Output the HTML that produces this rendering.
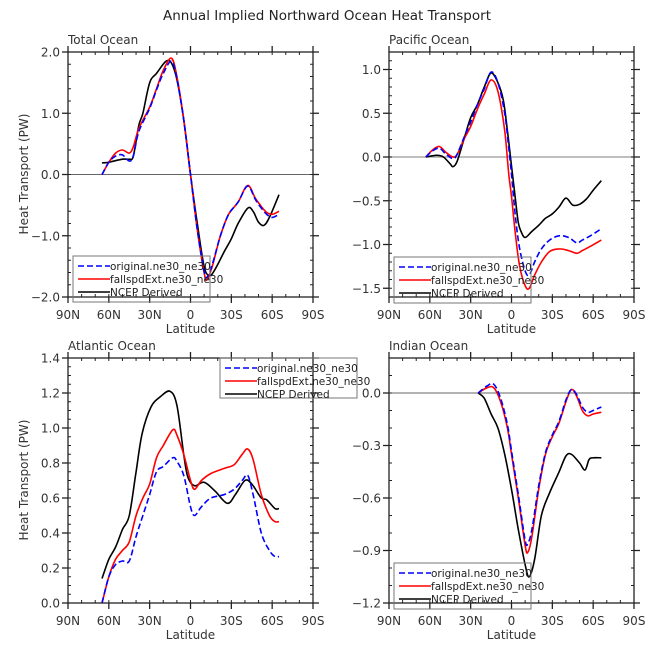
<!DOCTYPE html>
<html><head><meta charset="utf-8"><style>
body{margin:0;background:#fff;}
svg{display:block;font-family:"DejaVu Sans","Liberation Sans",sans-serif;}
</style></head><body>
<svg id="chart" width="653" height="649" viewBox="0 0 653 649">
<text x="327" y="20" text-anchor="middle" font-size="13.5" fill="#222">Annual Implied Northward Ocean Heat Transport</text>
</svg>
<script>
// ---- Data (lat in degrees, + = North) ----
const totalLatB=[65,60,50,45,42,38,35,30,25,18,14,10,5,0,-5,-10,-14,-18,-25,-30,-35,-42,-46,-50,-54,-58,-65];
const totalB=[0.19,0.2,0.25,0.25,0.3,0.8,1.0,1.5,1.65,1.85,1.82,1.55,0.9,0.0,-0.8,-1.5,-1.65,-1.55,-1.25,-1.05,-0.8,-0.55,-0.6,-0.78,-0.83,-0.7,-0.33];
const totalLatR=[65,60,55,50,45,42,38,30,25,20,14,10,5,0,-5,-10,-12,-16,-22,-28,-35,-42,-48,-55,-60,-65];
const totalR=[0.0,0.2,0.35,0.4,0.35,0.45,0.75,1.1,1.4,1.7,1.9,1.6,0.9,0,-0.9,-1.6,-1.72,-1.5,-1.0,-0.65,-0.45,-0.18,-0.4,-0.6,-0.65,-0.6];
const totalBl=[0.0,0.2,0.3,0.32,0.22,0.3,0.7,1.08,1.38,1.65,1.85,1.57,0.9,0,-0.9,-1.58,-1.68,-1.47,-1.0,-0.65,-0.45,-0.19,-0.42,-0.63,-0.7,-0.65];

const pacLatB=[63,55,50,45,43,40,35,30,25,20,15,10,6,3,0,-3,-5,-7,-10,-15,-20,-25,-30,-35,-40,-45,-50,-55,-60,-66];
const pacB=[0.0,0.02,0.0,-0.08,-0.11,-0.05,0.2,0.45,0.6,0.8,0.96,0.85,0.65,0.3,-0.1,-0.5,-0.75,-0.85,-0.92,-0.85,-0.78,-0.7,-0.65,-0.57,-0.47,-0.55,-0.54,-0.48,-0.38,-0.27];
const pacLatR=[63,58,53,48,43,40,35,30,25,20,15,10,5,2,0,-3,-6,-10,-13,-17,-22,-28,-35,-42,-48,-52,-58,-66];
const pacR=[0.0,0.08,0.12,0.05,0.0,0.03,0.2,0.35,0.55,0.72,0.88,0.75,0.3,-0.2,-0.45,-0.9,-1.25,-1.47,-1.5,-1.35,-1.2,-1.08,-1.05,-1.07,-1.1,-1.07,-1.02,-0.95];
const pacBl=[0.0,0.07,0.1,0.03,-0.02,0.03,0.22,0.4,0.6,0.78,0.97,0.85,0.5,0.1,-0.2,-0.7,-1.05,-1.3,-1.35,-1.2,-1.05,-0.95,-0.9,-0.92,-0.98,-0.95,-0.9,-0.82];

const atlLatB=[65,60,55,50,45,40,35.5,29,22,15,10,5,2,-3,-10,-18,-27,-33,-40,-45,-52,-56,-62,-65];
const atlB=[0.14,0.25,0.32,0.42,0.5,0.75,0.97,1.12,1.18,1.21,1.13,0.85,0.72,0.67,0.69,0.64,0.57,0.62,0.70,0.68,0.6,0.59,0.54,0.54];
const atlLatR=[65,60,55,50,45,40,35,30,25,20,13,10,5,0,-3,-8,-15,-25,-32,-38,-42,-46,-52,-58,-62,-65];
const atlR=[0.0,0.15,0.25,0.3,0.35,0.5,0.6,0.68,0.83,0.9,0.99,0.96,0.85,0.7,0.65,0.7,0.74,0.77,0.79,0.85,0.88,0.82,0.62,0.5,0.465,0.465];
const atlBl=[0.0,0.15,0.22,0.24,0.24,0.38,0.5,0.62,0.75,0.78,0.83,0.81,0.73,0.55,0.5,0.55,0.6,0.62,0.65,0.7,0.73,0.62,0.4,0.3,0.265,0.265];

const indLatB=[24.5,20,15,10,5,0,-5,-10,-13,-17,-22,-28,-35,-40,-44,-50,-54,-57,-60,-66];
const indB=[0,-0.03,-0.12,-0.2,-0.35,-0.55,-0.78,-0.98,-1.05,-0.95,-0.7,-0.57,-0.45,-0.36,-0.35,-0.4,-0.44,-0.38,-0.37,-0.37];
const indLatR=[24.5,18,13,8,3,0,-5,-10,-12,-15,-20,-25,-30,-35,-40,-44,-48,-52,-56,-60,-66];
const indR=[0,0.03,0.03,-0.05,-0.2,-0.35,-0.6,-0.87,-0.91,-0.82,-0.55,-0.35,-0.25,-0.17,-0.05,0.02,-0.02,-0.1,-0.13,-0.12,-0.11];
const indBl=[0,0.04,0.05,-0.03,-0.18,-0.33,-0.58,-0.84,-0.86,-0.78,-0.53,-0.34,-0.24,-0.16,-0.04,0.02,-0.01,-0.08,-0.11,-0.1,-0.08];

const xTickLabels=["90N","60N","30N","0","30S","60S","90S"];
const legendLabels=["original.ne30_ne30","fallspdExt.ne30_ne30","NCEP Derived"];

const NS='http://www.w3.org/2000/svg';
const svg=document.getElementById('chart');
function mk(tag,attrs,parent){const e=document.createElementNS(NS,tag);for(const k in attrs)e.setAttribute(k,attrs[k]);(parent||svg).appendChild(e);return e;}

function smoothPath(pts){
  let d='M'+pts[0][0].toFixed(1)+','+pts[0][1].toFixed(1);
  for(let i=0;i<pts.length-1;i++){
    const p0=pts[i-1]||pts[i],p1=pts[i],p2=pts[i+1],p3=pts[i+2]||p2;
    const c1=[p1[0]+(p2[0]-p0[0])/6,p1[1]+(p2[1]-p0[1])/6];
    const c2=[p2[0]-(p3[0]-p1[0])/6,p2[1]-(p3[1]-p1[1])/6];
    d+='C'+c1[0].toFixed(1)+','+c1[1].toFixed(1)+' '+c2[0].toFixed(1)+','+c2[1].toFixed(1)+' '+p2[0].toFixed(1)+','+p2[1].toFixed(1);
  }
  return d;
}

function panel(cfg){
  const g=mk('g',{});
  
  
  const L=cfg.x0,R=cfg.x0+245,T=cfg.y0,B=cfg.y0+245;
  const xs=lat=>L+(90-lat)/180*245;
  const ys=v=>B-(v-cfg.ymin)/(cfg.ymax-cfg.ymin)*245;
  if(cfg.ymin<0&&cfg.ymax>0){const z=mk('line',{x1:L,x2:R,y1:ys(0),y2:ys(0),stroke:cfg.zeroColor||'#333','stroke-width':cfg.zeroW||1},g);}
  for(let lat=-90;lat<=90;lat+=10){const x=xs(lat);
    mk('line',{x1:x,x2:x,y1:B,y2:B-3,stroke:'#222','stroke-width':1},g);
    mk('line',{x1:x,x2:x,y1:T,y2:T+3,stroke:'#222','stroke-width':1},g);}
  for(let v=cfg.ymin;v<=cfg.ymax+1e-9;v+=cfg.minor){const y=ys(v);
    mk('line',{x1:L,x2:L+3,y1:y,y2:y,stroke:'#222','stroke-width':1},g);
    mk('line',{x1:R,x2:R-3,y1:y,y2:y,stroke:'#222','stroke-width':1},g);}
  xTickLabels.forEach((lab,i)=>{const x=xs(90-30*i);
    mk('line',{x1:x,x2:x,y1:B,y2:B+6,stroke:'#222','stroke-width':1.3},g);
    mk('line',{x1:x,x2:x,y1:T,y2:T-6,stroke:'#222','stroke-width':1.3},g);
    const t=mk('text',{x:x,y:B+22,'text-anchor':'middle','font-size':12,fill:'#333'},g);t.textContent=lab;
    });
  cfg.majors.forEach(v=>{const y=ys(v);
    mk('line',{x1:L,x2:L-6,y1:y,y2:y,stroke:'#222','stroke-width':1.3},g);
    mk('line',{x1:R,x2:R+6,y1:y,y2:y,stroke:'#222','stroke-width':1.3},g);
    const t=mk('text',{x:L-8,y:y+4.5,'text-anchor':'end','font-size':12,fill:'#333'},g);
    t.textContent=(v<0?'\u2212':'')+Math.abs(v).toFixed(1);
    });
  const series=[[cfg.latB,cfg.black,'#000','none','ncep-line'],[cfg.latR,cfg.red,'#f00','none','fallspdext-line'],[cfg.latR,cfg.blue,'#00f','6,3','original-line']];
  series.forEach(s=>{const pts=s[0].map((la,i)=>[xs(la),ys(s[1][i])]);
    const p=mk('path',{d:smoothPath(pts),fill:'none',stroke:s[2],'stroke-width':1.6,'stroke-dasharray':s[3]},g);
    });
  mk('rect',{x:L,y:T,width:245,height:245,fill:'none',stroke:'#222','stroke-width':1.3},g);
  const tt=mk('text',{x:L,y:T-8,'font-size':12,fill:'#333'},g);tt.textContent=cfg.title;
  
  const xl=mk('text',{x:(L+R)/2,y:B+36,'text-anchor':'middle','font-size':12,fill:'#333'},g);xl.textContent='Latitude';
  
  if(cfg.ylabel){const yl=mk('text',{x:0,y:0,'text-anchor':'middle','font-size':12,fill:'#333',transform:'translate('+(L-40)+','+(T+122)+') rotate(-90)'},g);yl.textContent='Heat Transport (PW)';
    }
  const lg=mk('g',{},g);
  const lx=cfg.leg[0],ly=cfg.leg[1];
  mk('rect',{x:lx,y:ly,width:137,height:cfg.leg[2]||42,fill:'none',stroke:'#777','stroke-width':1},lg);
  const cols=['#00f','#f00','#000'],dash=['6,3','none','none'];
  legendLabels.forEach((lab,i)=>{const y=ly+10+i*13;
    mk('line',{x1:lx+5,x2:lx+37,y1:y,y2:y,stroke:cols[i],'stroke-width':1.6,'stroke-dasharray':dash[i]},lg);
    const t=mk('text',{x:lx+37,y:y+4,'font-size':10.5,fill:'#222'},lg);t.textContent=lab;
    });
}

panel({name:'total-ocean-panel',title:'Total Ocean',x0:68,y0:52,ymin:-2,ymax:2,majors:[-2,-1,0,1,2],minor:0.2,ylabel:true,
  latB:totalLatB,black:totalB,latR:totalLatR,red:totalR,blue:totalBl,leg:[73,256,46],zeroColor:'#333',zeroW:0.8});
panel({name:'pacific-ocean-panel',title:'Pacific Ocean',x0:389,y0:52,ymin:-1.6,ymax:1.2,majors:[-1.5,-1,-0.5,0,0.5,1],minor:0.1,ylabel:false,
  latB:pacLatB,black:pacB,latR:pacLatR,red:pacR,blue:pacBl,leg:[394,257,46],zeroColor:'#aaa',zeroW:1.5});
panel({name:'atlantic-ocean-panel',title:'Atlantic Ocean',x0:68,y0:358,ymin:0,ymax:1.4,majors:[0,0.2,0.4,0.6,0.8,1.0,1.2,1.4],minor:0.05,ylabel:true,
  latB:atlLatB,black:atlB,latR:atlLatR,red:atlR,blue:atlBl,leg:[220,358,40]});
panel({name:'indian-ocean-panel',title:'Indian Ocean',x0:389,y0:358,ymin:-1.2,ymax:0.2,majors:[-1.2,-0.9,-0.6,-0.3,0],minor:0.1,ylabel:false,
  latB:indLatB,black:indB,latR:indLatR,red:indR,blue:indBl,leg:[394,563,46],zeroColor:'#333',zeroW:0.8});
</script>
</body></html>
